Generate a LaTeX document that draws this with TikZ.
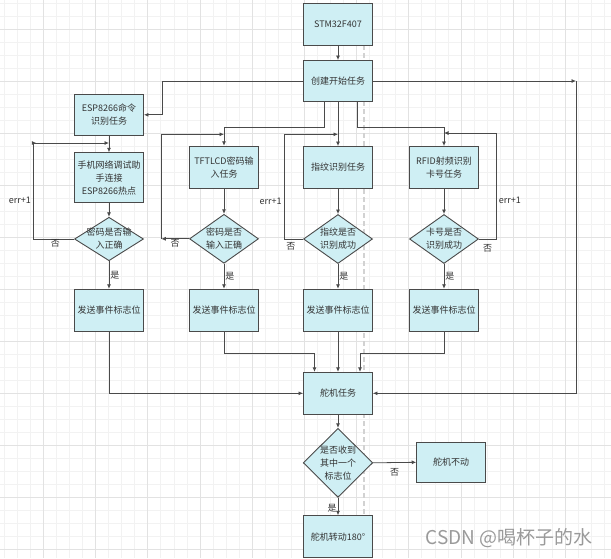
\documentclass[tikz,border=0pt]{standalone}
\usepackage{fontspec}
\newfontfamily\cjk{Noto Sans CJK SC}
\usetikzlibrary{arrows.meta,shapes.geometric}
\definecolor{taskcyan}{HTML}{CFEFF4}
\definecolor{edgegray}{HTML}{4A4A4A}
\definecolor{textgray}{HTML}{333333}
\definecolor{gridminor}{HTML}{F2F2F2}
\definecolor{gridmajor}{HTML}{E2E2E2}
\definecolor{markgray}{HTML}{9A9A9A}

\begin{document}
\begin{tikzpicture}[
  x=1pt, y=-1pt,
  font=\cjk\fontsize{9}{13}\selectfont,
  task/.style={
    draw=edgegray,
    line width=0.9pt,
    fill=taskcyan,
    text=textgray,
    align=center,
    minimum width=69pt,
    minimum height=42pt,
    inner sep=2pt
  },
  decision/.style={
    diamond,
    draw=edgegray,
    line width=0.9pt,
    fill=taskcyan,
    minimum width=69pt,
    minimum height=49pt,
    inner sep=0pt
  },
  dtext/.style={text=textgray, align=center, inner sep=0pt},
  tag/.style={text=textgray, inner sep=0pt},
  arrow/.style={-{Latex[length=4.5pt,width=4pt]}, edgegray, line width=0.8pt}
]

% background and grid
\fill[white] (0,0) rectangle (611,558);
\useasboundingbox (0,0) rectangle (611,558);
\foreach \i in {0,...,46}
  \draw[gridminor, line width=0.6pt] ({4.15+13.05*\i},0) -- ++(0,558);
\foreach \i in {0,...,41}
  \draw[gridminor, line width=0.6pt] (0,{3.3+13*\i}) -- ++(611,0);
\foreach \i in {0,...,10} {
  \draw[gridmajor, line width=0.8pt] ({43.3+52.2*\i},0) -- ++(0,558);
  \draw[gridmajor, line width=0.8pt] (0,{29.3+52*\i}) -- ++(611,0);
}
\draw[gray!35, line width=1.1pt, dash pattern=on 5pt off 3pt] (364,45) -- (364,558);

% tasks
\node[task] (stm) at (338,24.2) {STM32F407};
\node[task, minimum height=41pt] (create) at (338,81) {创建开始任务};
\node[task, minimum height=41pt] (esp) at (109,114.8) {ESP8266命令\\识别任务};
\node[task, minimum height=50pt] (phone) at (109,177.7) {手机网络调试助\\手连接\\ESP8266热点};
\node[task] (tft) at (224,167.2) {TFTLCD密码输\\入任务};
\node[task] (fp) at (338,167.5) {指纹识别任务};
\node[task] (rfid) at (444,167.5) {RFID射频识别\\卡号任务};

% checks
\node[decision, minimum height=43.5pt,
  label={[dtext]center:密码是否输\\入正确}] (pwd1) at (109,239) {};
\node[decision, label={[dtext]center:密码是否\\输入正确}] (pwd2) at (224,238.8) {};
\node[decision, label={[dtext]center:指纹是否\\识别成功}] (fpok) at (338,239) {};
\node[decision, label={[dtext]center:卡号是否\\识别成功}] (cardok) at (444,239) {};

% flags
\node[task] (send1) at (109,310.2) {发送事件标志位};
\node[task] (send2) at (224,310.2) {发送事件标志位};
\node[task] (send3) at (338,310.2) {发送事件标志位};
\node[task] (send4) at (444,310.2) {发送事件标志位};

% servo
\node[task] (servo) at (338,393.3) {舵机任务};
\node[decision, minimum width=69.5pt, minimum height=69pt,
  label={[dtext]center:是否收到\\其中一个\\标志位}] (flag) at (338,462.8) {};
\node[task, minimum height=40pt] (stay) at (451.2,462.3) {舵机不动};
\node[task] (rotate) at (338,536.7) {舵机转动180°};

\node[text=markgray, font=\cjk\fontsize{19}{19}\selectfont] (mark) at (509,538) {CSDN @喝杯子的水};

% bends
\coordinate (espbend) at (162.3,114.8);
\coordinate (lp1) at (33.3,143);
\coordinate (j1) at (109,143);
\coordinate (lp2) at (161.3,238.8);
\coordinate (j2) at (224,134.3);
\coordinate (lp3) at (284,134.3);
\coordinate (j3) at (338,134.3);
\coordinate (lp4) at (496.5,133);
\coordinate (j4) at (444,133);
\coordinate (rc) at (576,81);

% connectors
\draw[arrow] (stm) -- (create);
\draw[arrow] (create.west) -| (espbend) -- (esp.east);
\draw[arrow] ([xshift=-14pt]create.south) -- ++(0,25.7) -| (tft.north);
\draw[arrow] (create) -- (fp);
\draw[arrow] ([xshift=19pt]create.south) -- ++(0,25.7) -| (rfid.north);
\draw[arrow] (create.east) -- (rc);
\draw[arrow] (rc) |- (servo.east);

\draw[arrow] (esp) -- (phone);
\draw[arrow] (phone) -- (pwd1);
\draw[arrow] (tft) -- (pwd2);
\draw[arrow] (fp) -- (fpok);
\draw[arrow] (rfid) -- (cardok);

\draw[arrow] (pwd1.west) -| node[pos=0.23, below=0.5pt, tag]{否}
  node[pos=0.7, left=2pt, tag]{err+1} (lp1) -- ++(3,0);
\draw[arrow] (lp1) -- (j1);
\draw[arrow] (pwd2.west) -- node[pos=0.5, below=0.5pt, tag]{否} (lp2);
\draw[arrow] (lp2) |- (j2);
\draw[arrow] (fpok.west) -| node[pos=0.32, below=3pt, tag]{否}
  node[pos=0.68, left=2pt, tag]{err+1} (lp3) -- (j3);
\draw[arrow] (cardok.east) -| node[pos=0.25, below=5pt, tag]{否}
  node[pos=0.68, right=2pt, tag]{err+1} (lp4) -- (j4);

\draw[arrow] (pwd1) -- node[pos=0.5, right=1pt, tag]{是} (send1);
\draw[arrow] (pwd2) -- node[pos=0.5, right=1pt, tag]{是} (send2);
\draw[arrow] (fpok) -- node[pos=0.5, right=1pt, tag]{是} (send3);
\draw[arrow] (cardok) -- node[pos=0.5, right=1pt, tag]{是} (send4);

\draw[arrow] (send1.south) |- (servo.west);
\draw[arrow] (send2.south) -- ++(0,22) -| ([xshift=-23.5pt]servo.north);
\draw[arrow] (send3) -- (servo);
\draw[arrow] (send4.south) -- ++(0,22) -| ([xshift=22pt]servo.north);

\draw[arrow] (servo) -- (flag);
\draw[arrow] (flag.east) -- node[pos=0.5, below=5pt, tag]{否} (stay.west);
\draw[arrow] (flag.south) -- node[pos=0.6, left=1pt, tag]{是} (rotate.north);

\end{tikzpicture}
\end{document}
